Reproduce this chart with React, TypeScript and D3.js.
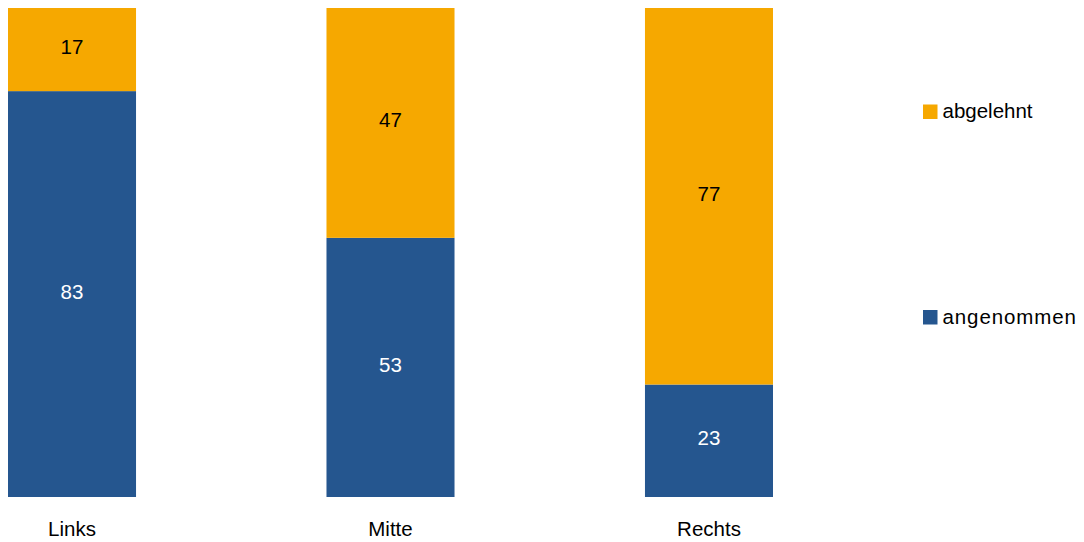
import React from "react";
import * as d3 from "d3";

const categories = ["Links", "Mitte", "Rechts"];
const angenommen = [83, 53, 23];
const abgelehnt = [17, 47, 77];
const seriesNames = ["abgelehnt", "angenommen"];

const W = 1084;
const H = 542;
const BLUE = "#25568F";
const ORANGE = "#F6A800";
const FONT = "'Liberation Sans', Arial, sans-serif";
const FS = 20.5;

export default function App() {
  const x = d3.scaleBand<string>().domain(categories).range([8, 773]).paddingInner(0.598).paddingOuter(0);
  const y = d3.scaleLinear().domain([0, 100]).range([497, 8]);
  const bw = x.bandwidth();

  const rows = categories.map((c, i) => ({ c, a: angenommen[i], b: abgelehnt[i] }));

  return (
    <svg width={W} height={H} style={{ position: "absolute", left: 0, top: 0 }} fontFamily={FONT}>
      <rect width={W} height={H} fill="#fff" />
      {rows.map((r) => {
        const x0 = x(r.c)!;
        const yA = y(r.a);
        const yT = y(r.a + r.b);
        return (
          <g key={r.c}>
            <rect x={x0} y={yA} width={bw} height={y(0) - yA} fill={BLUE} />
            <rect x={x0} y={yT} width={bw} height={yA - yT} fill={ORANGE} />
            <text x={x0 + bw / 2} y={(yA + y(0)) / 2} dy="0.22em" textAnchor="middle" fontSize={FS} fill="#fff">
              {r.a}
            </text>
            <text x={x0 + bw / 2} y={(yT + yA) / 2} dy="0.22em" textAnchor="middle" fontSize={FS} fill="#000">
              {r.b}
            </text>
            <text x={x0 + bw / 2} y={535.5} textAnchor="middle" fontSize={FS} fill="#000">
              {r.c}
            </text>
          </g>
        );
      })}
      {seriesNames.map((s, i) => {
        const ys = [104.5, 310][i];
        return (
          <g key={s}>
            <rect x={923} y={ys} width={14.5} height={14.5} fill={i === 0 ? ORANGE : BLUE} />
            <text x={942.5} y={ys + 13.5} fontSize={FS} fill="#000" letterSpacing={i === 1 ? 0.9 : 0}>
              {s}
            </text>
          </g>
        );
      })}
    </svg>
  );
}
